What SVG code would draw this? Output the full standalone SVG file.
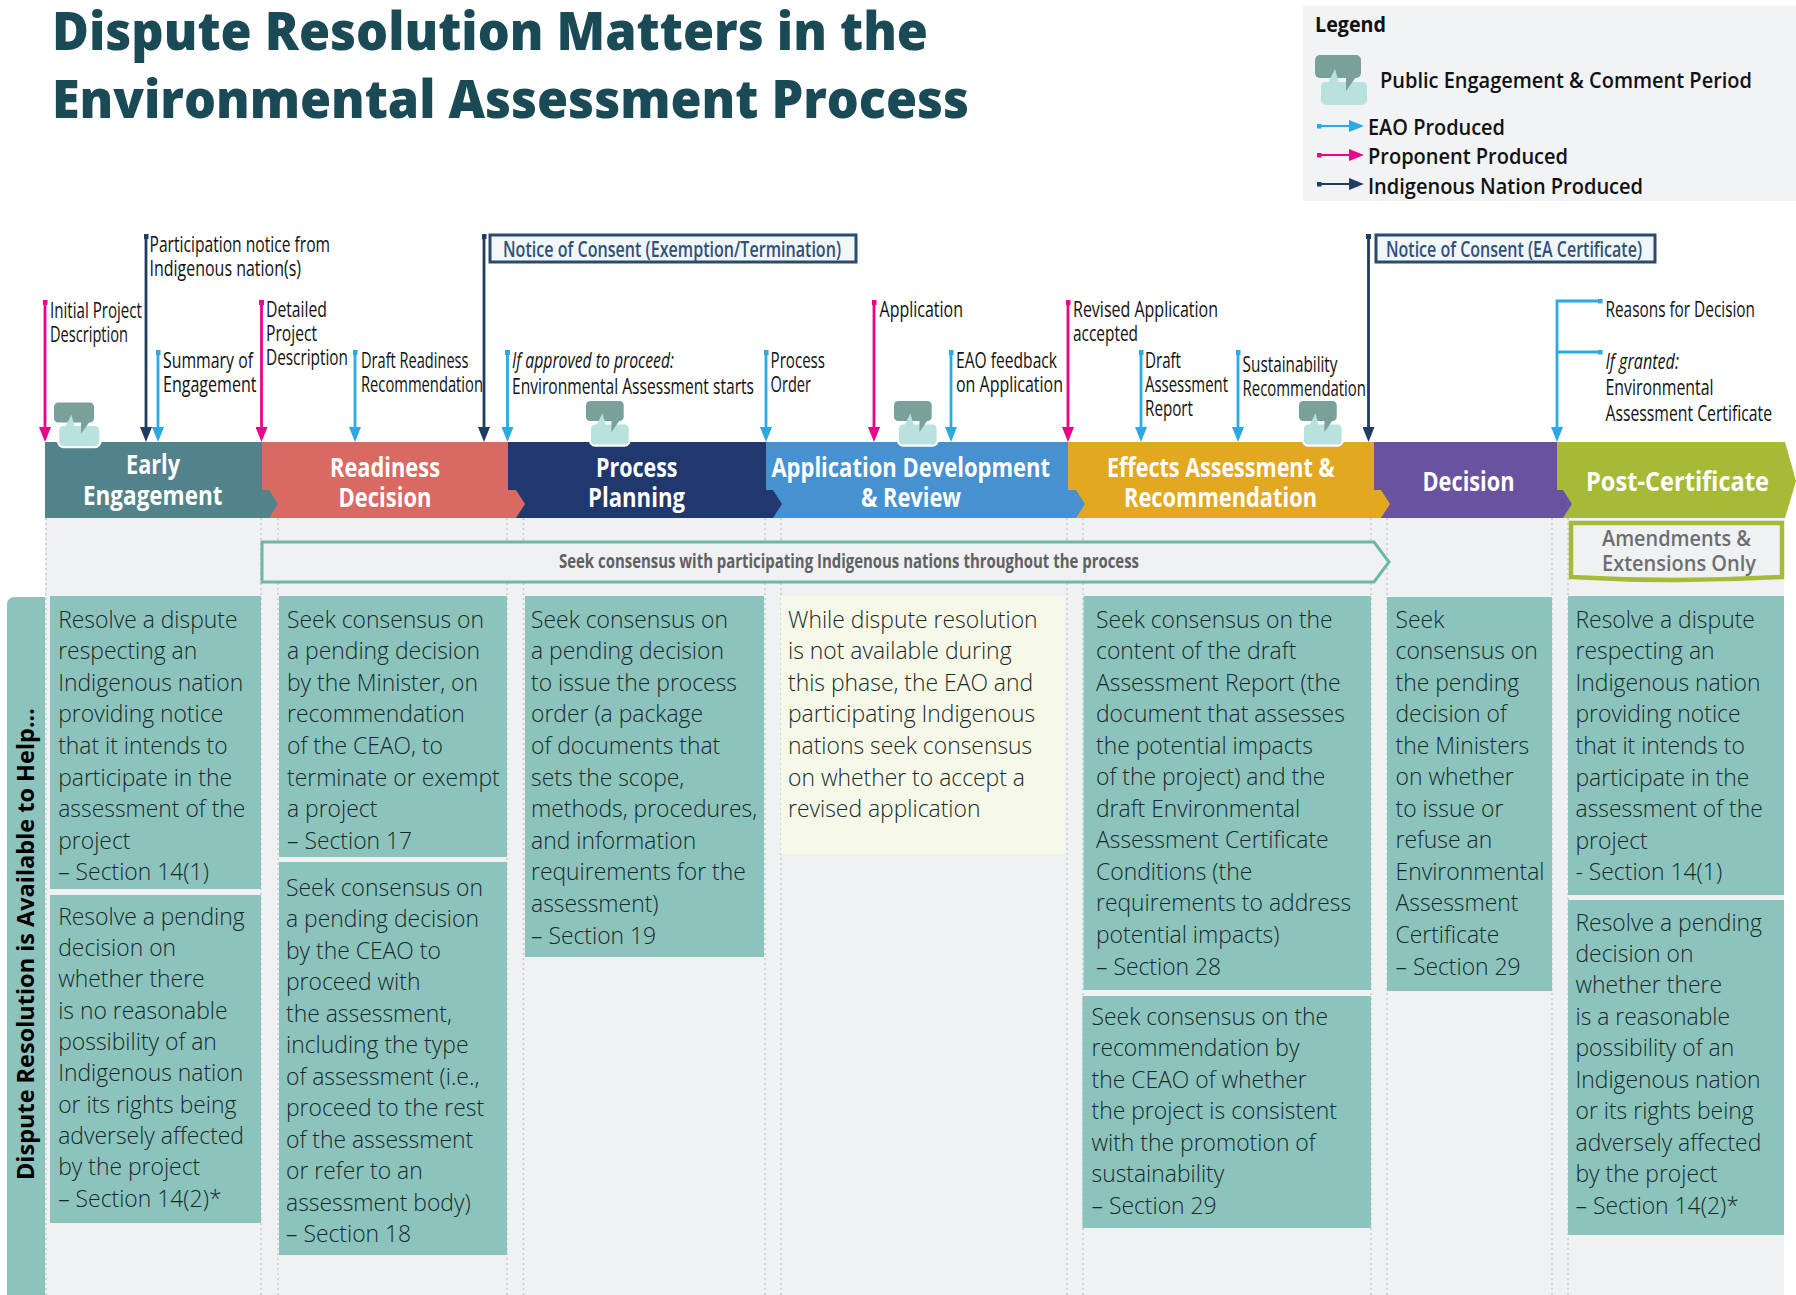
<svg xmlns="http://www.w3.org/2000/svg" width="1796" height="1295" viewBox="0 0 1796 1295">
<style>
text{font-family:"Open Sans","Liberation Sans",sans-serif}
.b{font-size:22.9px;font-weight:300;fill:#17292b}
.box{fill:#8cc4bd}
.l{font-size:21px;fill:#111}
.p{font-size:26px;font-weight:700;fill:#fff}
.leg{font-size:22px;font-weight:600;fill:#111}
.not{font-size:21px;font-weight:600;fill:#2f5078}
.nb{fill:#f1f7f8;stroke:#2b4a6f;stroke-width:3}
.d{stroke:#c9cccf;stroke-width:1.5;stroke-dasharray:2 3;fill:none}
.a{fill:none;stroke-width:2.8}
.t{stroke-width:2}
.blue{stroke:#29abe2}.pink{stroke:#ec008c}.navy{stroke:#1f3c64}
</style>
<defs>
<marker id="hb" viewBox="0 0 15 12" refX="5" refY="6" markerWidth="15" markerHeight="12" markerUnits="userSpaceOnUse" orient="auto"><path d="M0,0L15,6L0,12z" fill="#29abe2"/></marker>
<marker id="hp" viewBox="0 0 15 12" refX="5" refY="6" markerWidth="15" markerHeight="12" markerUnits="userSpaceOnUse" orient="auto"><path d="M0,0L15,6L0,12z" fill="#ec008c"/></marker>
<marker id="hn" viewBox="0 0 15 12" refX="5" refY="6" markerWidth="15" markerHeight="12" markerUnits="userSpaceOnUse" orient="auto"><path d="M0,0L15,6L0,12z" fill="#1f3c64"/></marker>
<marker id="sb" viewBox="0 0 5 5" refX="2.5" refY="2.5" markerWidth="5" markerHeight="5" markerUnits="userSpaceOnUse"><rect width="5" height="5" fill="#29abe2"/></marker>
<marker id="sp" viewBox="0 0 5 5" refX="2.5" refY="2.5" markerWidth="5" markerHeight="5" markerUnits="userSpaceOnUse"><rect width="5" height="5" fill="#ec008c"/></marker>
<marker id="sn" viewBox="0 0 5 5" refX="2.5" refY="2.5" markerWidth="5" markerHeight="5" markerUnits="userSpaceOnUse"><rect width="5" height="5" fill="#1f3c64"/></marker>
<g id="bub">
<rect x="0" y="0" width="46" height="23" rx="5" fill="#7aa09a"/>
<rect x="6" y="27" width="46" height="23" rx="5" fill="#b9e1dd"/>
<path d="M13,28L20,14L24,28z" fill="#b9e1dd"/>
<path d="M31,22H41L31,36z" fill="#7aa09a"/>
</g>
</defs>

<rect id="ground" x="45" y="518" width="1739" height="777" fill="#f0f1f3"/>
<g id="guides">
<path class="d" d="M46,518V1295M261,518V1295M278,518V1295M507,518V1295M523.5,518V1295M765,518V1295M781,518V1295M1067,518V1295M1083,518V1295M1371,518V1295M1387,518V1295M1552,518V1295M1568,518V1295"/>
</g>

<g id="title">
<text x="52" y="50" font-size="53" font-weight="800" fill="#1a4a56" textLength="876" lengthAdjust="spacingAndGlyphs">Dispute Resolution Matters in the</text>
<text x="52" y="118" font-size="53" font-weight="800" fill="#1a4a56" textLength="917" lengthAdjust="spacingAndGlyphs">Environmental Assessment Process</text>
</g>

<g id="legend">
<rect x="1303" y="6" width="493" height="195" fill="#f2f3f5"/>
<text x="1315" y="32" font-size="21" font-weight="700" fill="#111" textLength="71" lengthAdjust="spacingAndGlyphs">Legend</text>
<use href="#bub" x="1315" y="55"/>
<text class="leg" x="1380" y="88" textLength="372" lengthAdjust="spacingAndGlyphs">Public Engagement &amp; Comment Period</text>
<path class="a t blue" d="M1319,126H1354" marker-start="url(#sb)" marker-end="url(#hb)"/>
<text class="leg" x="1368" y="135" textLength="137" lengthAdjust="spacingAndGlyphs">EAO Produced</text>
<path class="a t pink" d="M1319,155H1354" marker-start="url(#sp)" marker-end="url(#hp)"/>
<text class="leg" x="1368" y="164" textLength="200" lengthAdjust="spacingAndGlyphs">Proponent Produced</text>
<path class="a t navy" d="M1319,184H1354" marker-start="url(#sn)" marker-end="url(#hn)"/>
<text class="leg" x="1368" y="194" textLength="275" lengthAdjust="spacingAndGlyphs">Indigenous Nation Produced</text>
</g>

<g id="phase-post"><path d="M1557,442H1785L1796,481L1785,518H1557z" fill="#a6ba35"/><text class="p" x="1586" y="491" textLength="183" lengthAdjust="spacingAndGlyphs">Post-Certificate</text></g>
<g id="phase-decision"><path d="M1374,442H1557V490H1563L1572,504L1563,518H1374z" fill="#6953a1"/><text class="p" x="1422.5" y="491" textLength="92" lengthAdjust="spacingAndGlyphs">Decision</text></g>
<g id="phase-effects"><path d="M1068,442H1374V490H1381L1390,504L1381,518H1068z" fill="#e3a822"/><text class="p" x="1107" y="476.500" textLength="227.600" lengthAdjust="spacingAndGlyphs">Effects Assessment &amp;</text><text class="p" x="1124" y="507" textLength="193" lengthAdjust="spacingAndGlyphs">Recommendation</text></g>
<g id="phase-application"><path d="M766,442H1068V490H1076L1085,504L1076,518H766z" fill="#4691d0"/><text class="p" x="771.400" y="476.500" textLength="278.600" lengthAdjust="spacingAndGlyphs">Application Development</text><text class="p" x="861" y="507" textLength="100" lengthAdjust="spacingAndGlyphs">&amp; Review</text></g>
<g id="phase-process"><path d="M508,442H766V490H773L782,504L773,518H508z" fill="#20386e"/><text class="p" x="596" y="476.500" textLength="81.500" lengthAdjust="spacingAndGlyphs">Process</text><text class="p" x="588" y="507" textLength="97" lengthAdjust="spacingAndGlyphs">Planning</text></g>
<g id="phase-readiness"><path d="M262,442H508V490H516L525,504L516,518H262z" fill="#d96a63"/><text class="p" x="330" y="476.500" textLength="110" lengthAdjust="spacingAndGlyphs">Readiness</text><text class="p" x="338.600" y="507" textLength="92.800" lengthAdjust="spacingAndGlyphs">Decision</text></g>
<g id="phase-early"><path d="M45,442H262V490H269L278,504L269,518H45z" fill="#52838a"/><text class="p" x="126" y="474" textLength="54" lengthAdjust="spacingAndGlyphs">Early</text><text class="p" x="83" y="505" textLength="139.500" lengthAdjust="spacingAndGlyphs">Engagement</text></g>

<g id="bubbles">
<g transform="translate(54,402.500) scale(.87)"><rect x="6" y="27" width="46" height="23" rx="5" fill="#fff" stroke="#fff" stroke-width="5"/><use href="#bub"/></g>
<g transform="translate(586,401) scale(.82,.87)"><rect x="6" y="27" width="46" height="23" rx="5" fill="#fff" stroke="#fff" stroke-width="5"/><use href="#bub"/></g>
<g transform="translate(894,401) scale(.82,.87)"><rect x="6" y="27" width="46" height="23" rx="5" fill="#fff" stroke="#fff" stroke-width="5"/><use href="#bub"/></g>
<g transform="translate(1299,401) scale(.82,.87)"><rect x="6" y="27" width="46" height="23" rx="5" fill="#fff" stroke="#fff" stroke-width="5"/><use href="#bub"/></g>
</g>

<g id="connectors">
<path class="a pink" d="M45,302.500V432" marker-start="url(#sp)" marker-end="url(#hp)"/>
<path class="a navy" d="M146,236.500V432" marker-start="url(#sn)" marker-end="url(#hn)"/>
<path class="a blue" d="M158,352.500V432" marker-start="url(#sb)" marker-end="url(#hb)"/>
<path class="a pink" d="M261.500,302.500V432" marker-start="url(#sp)" marker-end="url(#hp)"/>
<path class="a blue" d="M355,352.500V432" marker-start="url(#sb)" marker-end="url(#hb)"/>
<path class="a navy" d="M484,236.500V432" marker-start="url(#sn)" marker-end="url(#hn)"/>
<path class="a blue" d="M507.500,352.500V432" marker-start="url(#sb)" marker-end="url(#hb)"/>
<path class="a blue" d="M766,352.500V432" marker-start="url(#sb)" marker-end="url(#hb)"/>
<path class="a pink" d="M874,302.500V432" marker-start="url(#sp)" marker-end="url(#hp)"/>
<path class="a blue" d="M951,352.500V432" marker-start="url(#sb)" marker-end="url(#hb)"/>
<path class="a pink" d="M1068,302.500V432" marker-start="url(#sp)" marker-end="url(#hp)"/>
<path class="a blue" d="M1141,352.500V432" marker-start="url(#sb)" marker-end="url(#hb)"/>
<path class="a blue" d="M1238,352.500V432" marker-start="url(#sb)" marker-end="url(#hb)"/>
<path class="a navy" d="M1368.500,236.500V432" marker-start="url(#sn)" marker-end="url(#hn)"/>
<path class="a blue" d="M1600,301H1557V432" marker-start="url(#sb)" marker-end="url(#hb)"/>
<path class="a blue" d="M1600,352H1557" marker-start="url(#sb)"/>
</g>

<g id="notice-exemption"><rect class="nb" x="490" y="235" width="366" height="27"/><text class="not" x="503" y="257" textLength="338" lengthAdjust="spacingAndGlyphs">Notice of Consent (Exemption/Termination)</text></g>
<g id="notice-certificate"><rect class="nb" x="1376" y="235" width="279" height="27"/><text class="not" x="1386" y="257" textLength="256" lengthAdjust="spacingAndGlyphs">Notice of Consent (EA Certificate)</text></g>

<g id="labels">
<text class="l" x="50" y="318" textLength="92" lengthAdjust="spacingAndGlyphs">Initial Project</text>
<text class="l" x="50" y="342" textLength="78" lengthAdjust="spacingAndGlyphs">Description</text>
<text class="l" x="149.500" y="252" textLength="180.500" lengthAdjust="spacingAndGlyphs">Participation notice from</text>
<text class="l" x="149.500" y="276" textLength="151.500" lengthAdjust="spacingAndGlyphs">Indigenous nation(s)</text>
<text class="l" x="163" y="368" textLength="90" lengthAdjust="spacingAndGlyphs">Summary of</text>
<text class="l" x="163" y="392" textLength="93.500" lengthAdjust="spacingAndGlyphs">Engagement</text>
<text class="l" x="266" y="317" textLength="61" lengthAdjust="spacingAndGlyphs">Detailed</text>
<text class="l" x="266" y="341" textLength="51" lengthAdjust="spacingAndGlyphs">Project</text>
<text class="l" x="266" y="365" textLength="82" lengthAdjust="spacingAndGlyphs">Description</text>
<text class="l" x="361" y="368" textLength="107.500" lengthAdjust="spacingAndGlyphs">Draft Readiness</text>
<text class="l" x="361" y="392" textLength="122" lengthAdjust="spacingAndGlyphs">Recommendation</text>
<text class="l" x="512" y="368" font-style="italic" textLength="162" lengthAdjust="spacingAndGlyphs">If approved to proceed:</text>
<text class="l" x="512" y="394" textLength="242" lengthAdjust="spacingAndGlyphs">Environmental Assessment starts</text>
<text class="l" x="770.600" y="368" textLength="54.400" lengthAdjust="spacingAndGlyphs">Process</text>
<text class="l" x="770.600" y="392" textLength="40.400" lengthAdjust="spacingAndGlyphs">Order</text>
<text class="l" x="879.600" y="317" textLength="83.400" lengthAdjust="spacingAndGlyphs">Application</text>
<text class="l" x="956" y="368" textLength="101" lengthAdjust="spacingAndGlyphs">EAO feedback</text>
<text class="l" x="956" y="392" textLength="107" lengthAdjust="spacingAndGlyphs">on Application</text>
<text class="l" x="1073" y="317" textLength="145" lengthAdjust="spacingAndGlyphs">Revised Application</text>
<text class="l" x="1073" y="341" textLength="65" lengthAdjust="spacingAndGlyphs">accepted</text>
<text class="l" x="1145" y="368" textLength="36" lengthAdjust="spacingAndGlyphs">Draft</text>
<text class="l" x="1145" y="392" textLength="83" lengthAdjust="spacingAndGlyphs">Assessment</text>
<text class="l" x="1145" y="416" textLength="48" lengthAdjust="spacingAndGlyphs">Report</text>
<text class="l" x="1242.600" y="372" textLength="94.900" lengthAdjust="spacingAndGlyphs">Sustainability</text>
<text class="l" x="1242.600" y="396" textLength="123.400" lengthAdjust="spacingAndGlyphs">Recommendation</text>
<text class="l" x="1605.500" y="317" textLength="149.500" lengthAdjust="spacingAndGlyphs">Reasons for Decision</text>
<text class="l" x="1605.500" y="369" font-style="italic" textLength="73.500" lengthAdjust="spacingAndGlyphs">If granted:</text>
<text class="l" x="1605.500" y="395" textLength="108" lengthAdjust="spacingAndGlyphs">Environmental</text>
<text class="l" x="1605.500" y="421" textLength="166.500" lengthAdjust="spacingAndGlyphs">Assessment Certificate</text>
</g>

<g id="consensus-band">
<path d="M262,542H1374L1389,562L1374,582H262z" fill="#f0f1f3" stroke="#6fb5a8" stroke-width="3"/>
<text x="559" y="568" font-size="19" font-weight="700" fill="#5f6062" textLength="580" lengthAdjust="spacingAndGlyphs">Seek consensus with participating Indigenous nations throughout the process</text>
</g>

<g id="amendments">
<path d="M1571,523H1782V577Q1676,583 1571,577z" fill="#f0f1f3" stroke="#a6ba35" stroke-width="4.500"/>
<text x="1602" y="546" font-size="22" font-weight="600" fill="#6d6e71" textLength="149" lengthAdjust="spacingAndGlyphs">Amendments &amp;</text>
<text x="1602" y="571" font-size="22" font-weight="600" fill="#6d6e71" textLength="154" lengthAdjust="spacingAndGlyphs">Extensions Only</text>
</g>

<g id="sidebar">
<path d="M15,597H45V1295H7V605Q7,597 15,597z" class="box"/>
<text transform="translate(34,1180) rotate(-90)" font-size="24" font-weight="700" fill="#000" textLength="472" lengthAdjust="spacingAndGlyphs">Dispute Resolution is Available to Help...</text>
</g>

<g id="early-1"><rect class="box" x="50" y="596" width="211" height="293"/>
<text class="b" y="627.500"><tspan x="58.200">Resolve a dispute</tspan><tspan x="58.200" dy="31.600">respecting an</tspan><tspan x="58.200" dy="31.600">Indigenous nation</tspan><tspan x="58.200" dy="31.600">providing notice</tspan><tspan x="58.200" dy="31.600">that it intends to</tspan><tspan x="58.200" dy="31.600">participate in the</tspan><tspan x="58.200" dy="31.600">assessment of the</tspan><tspan x="58.200" dy="31.600">project</tspan><tspan x="58.200" dy="31.600">– Section 14(1)</tspan></text></g>
<g id="early-2"><rect class="box" x="50" y="895" width="211" height="328"/>
<text class="b" y="924.500"><tspan x="58.200">Resolve a pending</tspan><tspan x="58.200" dy="31.350">decision on</tspan><tspan x="58.200" dy="31.350">whether there</tspan><tspan x="58.200" dy="31.350">is no reasonable</tspan><tspan x="58.200" dy="31.350">possibility of an</tspan><tspan x="58.200" dy="31.350">Indigenous nation</tspan><tspan x="58.200" dy="31.350">or its rights being</tspan><tspan x="58.200" dy="31.350">adversely affected</tspan><tspan x="58.200" dy="31.350">by the project</tspan><tspan x="58.200" dy="31.350">– Section 14(2)*</tspan></text></g>
<g id="readiness-1"><rect class="box" x="279" y="596" width="228" height="261"/>
<text class="b" y="627.500"><tspan x="287">Seek consensus on</tspan><tspan x="287" dy="31.600">a pending decision</tspan><tspan x="287" dy="31.600">by the Minister, on</tspan><tspan x="287" dy="31.600">recommendation</tspan><tspan x="287" dy="31.600">of the CEAO, to</tspan><tspan x="287" dy="31.600">terminate or exempt</tspan><tspan x="287" dy="31.600">a project</tspan><tspan x="287" dy="31.600">– Section 17</tspan></text></g>
<g id="readiness-2"><rect class="box" x="279" y="862" width="228" height="393"/>
<text class="b" y="896"><tspan x="286">Seek consensus on</tspan><tspan x="286" dy="31.450">a pending decision</tspan><tspan x="286" dy="31.450">by the CEAO to</tspan><tspan x="286" dy="31.450">proceed with</tspan><tspan x="286" dy="31.450">the assessment,</tspan><tspan x="286" dy="31.450">including the type</tspan><tspan x="286" dy="31.450">of assessment (i.e.,</tspan><tspan x="286" dy="31.450">proceed to the rest</tspan><tspan x="286" dy="31.450">of the assessment</tspan><tspan x="286" dy="31.450">or refer to an</tspan><tspan x="286" dy="31.450">assessment body)</tspan><tspan x="286" dy="31.450">– Section 18</tspan></text></g>
<g id="process-1"><rect class="box" x="525" y="596" width="239" height="361"/>
<text class="b" y="627.500"><tspan x="531">Seek consensus on</tspan><tspan x="531" dy="31.600">a pending decision</tspan><tspan x="531" dy="31.600">to issue the process</tspan><tspan x="531" dy="31.600">order (a package</tspan><tspan x="531" dy="31.600">of documents that</tspan><tspan x="531" dy="31.600">sets the scope,</tspan><tspan x="531" dy="31.600">methods, procedures,</tspan><tspan x="531" dy="31.600">and information</tspan><tspan x="531" dy="31.600">requirements for the</tspan><tspan x="531" dy="31.600">assessment)</tspan><tspan x="531" dy="31.600">– Section 19</tspan></text></g>
<g id="application-1"><rect x="781" y="596" width="284" height="258" fill="#f6f9e8"/>
<text class="b" y="627.500"><tspan x="788">While dispute resolution</tspan><tspan x="788" dy="31.600">is not available during</tspan><tspan x="788" dy="31.600">this phase, the EAO and</tspan><tspan x="788" dy="31.600">participating Indigenous</tspan><tspan x="788" dy="31.600">nations seek consensus</tspan><tspan x="788" dy="31.600">on whether to accept a</tspan><tspan x="788" dy="31.600">revised application</tspan></text></g>
<g id="effects-1"><rect class="box" x="1083.500" y="596" width="287.500" height="394"/>
<text class="b" y="627.500"><tspan x="1096">Seek consensus on the</tspan><tspan x="1096" dy="31.550">content of the draft</tspan><tspan x="1096" dy="31.550">Assessment Report (the</tspan><tspan x="1096" dy="31.550">document that assesses</tspan><tspan x="1096" dy="31.550">the potential impacts</tspan><tspan x="1096" dy="31.550">of the project) and the</tspan><tspan x="1096" dy="31.550">draft Environmental</tspan><tspan x="1096" dy="31.550">Assessment Certificate</tspan><tspan x="1096" dy="31.550">Conditions (the</tspan><tspan x="1096" dy="31.550">requirements to address</tspan><tspan x="1096" dy="31.550">potential impacts)</tspan><tspan x="1096" dy="31.550">– Section 28</tspan></text></g>
<g id="effects-2"><rect class="box" x="1082.500" y="996" width="288.500" height="232"/>
<text class="b" y="1025"><tspan x="1091.500">Seek consensus on the</tspan><tspan x="1091.500" dy="31.450">recommendation by</tspan><tspan x="1091.500" dy="31.450">the CEAO of whether</tspan><tspan x="1091.500" dy="31.450">the project is consistent</tspan><tspan x="1091.500" dy="31.450">with the promotion of</tspan><tspan x="1091.500" dy="31.450">sustainability</tspan><tspan x="1091.500" dy="31.450">– Section 29</tspan></text></g>
<g id="decision-1"><rect class="box" x="1387" y="597" width="165" height="394"/>
<text class="b" y="627.500"><tspan x="1395.500">Seek</tspan><tspan x="1395.500" dy="31.550">consensus on</tspan><tspan x="1395.500" dy="31.550">the pending</tspan><tspan x="1395.500" dy="31.550">decision of</tspan><tspan x="1395.500" dy="31.550">the Ministers</tspan><tspan x="1395.500" dy="31.550">on whether</tspan><tspan x="1395.500" dy="31.550">to issue or</tspan><tspan x="1395.500" dy="31.550">refuse an</tspan><tspan x="1395.500" dy="31.550">Environmental</tspan><tspan x="1395.500" dy="31.550">Assessment</tspan><tspan x="1395.500" dy="31.550">Certificate</tspan><tspan x="1395.500" dy="31.550">– Section 29</tspan></text></g>
<g id="post-1"><rect class="box" x="1568" y="596" width="216" height="299"/>
<text class="b" y="627.500"><tspan x="1575.500">Resolve a dispute</tspan><tspan x="1575.500" dy="31.600">respecting an</tspan><tspan x="1575.500" dy="31.600">Indigenous nation</tspan><tspan x="1575.500" dy="31.600">providing notice</tspan><tspan x="1575.500" dy="31.600">that it intends to</tspan><tspan x="1575.500" dy="31.600">participate in the</tspan><tspan x="1575.500" dy="31.600">assessment of the</tspan><tspan x="1575.500" dy="31.600">project</tspan><tspan x="1575.500" dy="31.600">- Section 14(1)</tspan></text></g>
<g id="post-2"><rect class="box" x="1568" y="900" width="216" height="335"/>
<text class="b" y="930.500"><tspan x="1575.500">Resolve a pending</tspan><tspan x="1575.500" dy="31.450">decision on</tspan><tspan x="1575.500" dy="31.450">whether there</tspan><tspan x="1575.500" dy="31.450">is a reasonable</tspan><tspan x="1575.500" dy="31.450">possibility of an</tspan><tspan x="1575.500" dy="31.450">Indigenous nation</tspan><tspan x="1575.500" dy="31.450">or its rights being</tspan><tspan x="1575.500" dy="31.450">adversely affected</tspan><tspan x="1575.500" dy="31.450">by the project</tspan><tspan x="1575.500" dy="31.450">– Section 14(2)*</tspan></text></g>
</svg>
